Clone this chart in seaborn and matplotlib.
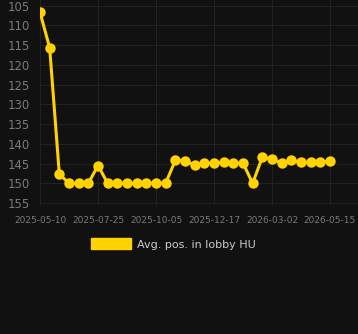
import numpy as np
import pandas as pd
import matplotlib
matplotlib.use("Agg")
import matplotlib.pyplot as plt
from matplotlib.patches import Patch
import seaborn as sns

# valeurs (axe y inversé)
avg_pos = [106.7, 115.7, 147.7, 150.0, 150.0, 150.0, 145.5, 150.0, 150.0, 150.0,
           150.0, 150.0, 150.0, 150.0, 144.2, 144.3, 145.4, 144.9, 144.9, 144.7,
           144.9, 144.9, 150.0, 143.4, 143.8, 144.9, 144.1, 144.7, 144.7, 144.7,
           144.3]
tick_pos = [0, 6, 12, 18, 24, 30]
tick_labels = ["2025-05-10", "2025-07-25", "2025-10-05", "2025-12-17",
               "2026-03-02", "2026-05-15"]
y_ticks = [105, 110, 115, 120, 125, 130, 135, 140, 145, 150, 155]
series_name = "Avg. pos. in lobby HU"

df = pd.DataFrame({"idx": range(len(avg_pos)), "pos": avg_pos})

bg = "#111111"
gold = "#FFD200"
grid_c = "#222222"

sns.set_theme(style="dark")
plt.rcParams["font.family"] = ["DejaVu Sans"]

fig = plt.figure(figsize=(3.58, 3.34), dpi=100, facecolor=bg)
ax = fig.add_axes([40 / 358, 1 - 205 / 334, 1 - 40 / 358, 205 / 334])
ax.set_facecolor(bg)

sns.lineplot(ax=ax, data=df, x="idx", y="pos", color=gold, linewidth=2.2,
             marker="o", markersize=7.5, markeredgewidth=0, markerfacecolor=gold)

ax.set_xlim(0, 32.9)
ax.set_ylim(155.5, 103.6)
ax.set_xticks(tick_pos)
ax.set_xticklabels(tick_labels)
ax.set_yticks(y_ticks)
ax.set_xlabel("")
ax.set_ylabel("")
ax.grid(True, color=grid_c, linewidth=0.8)
ax.tick_params(axis="x", length=0, pad=8, labelsize=6.5, colors="#7a7a7a")
ax.tick_params(axis="y", length=0, pad=7, labelsize=8.4, colors="#7a7a7a")
for s in ax.spines.values():
    s.set_visible(False)

handle = Patch(facecolor=gold, edgecolor=gold, label=series_name)
fig.legend(handles=[handle], loc="center", bbox_to_anchor=(0.485, 1 - 244 / 334),
           frameon=False, fontsize=8, labelcolor="#cccccc",
           handlelength=3.6, handleheight=1.1, handletextpad=0.55)

fig.savefig("out.png", dpi=100, facecolor=bg)
